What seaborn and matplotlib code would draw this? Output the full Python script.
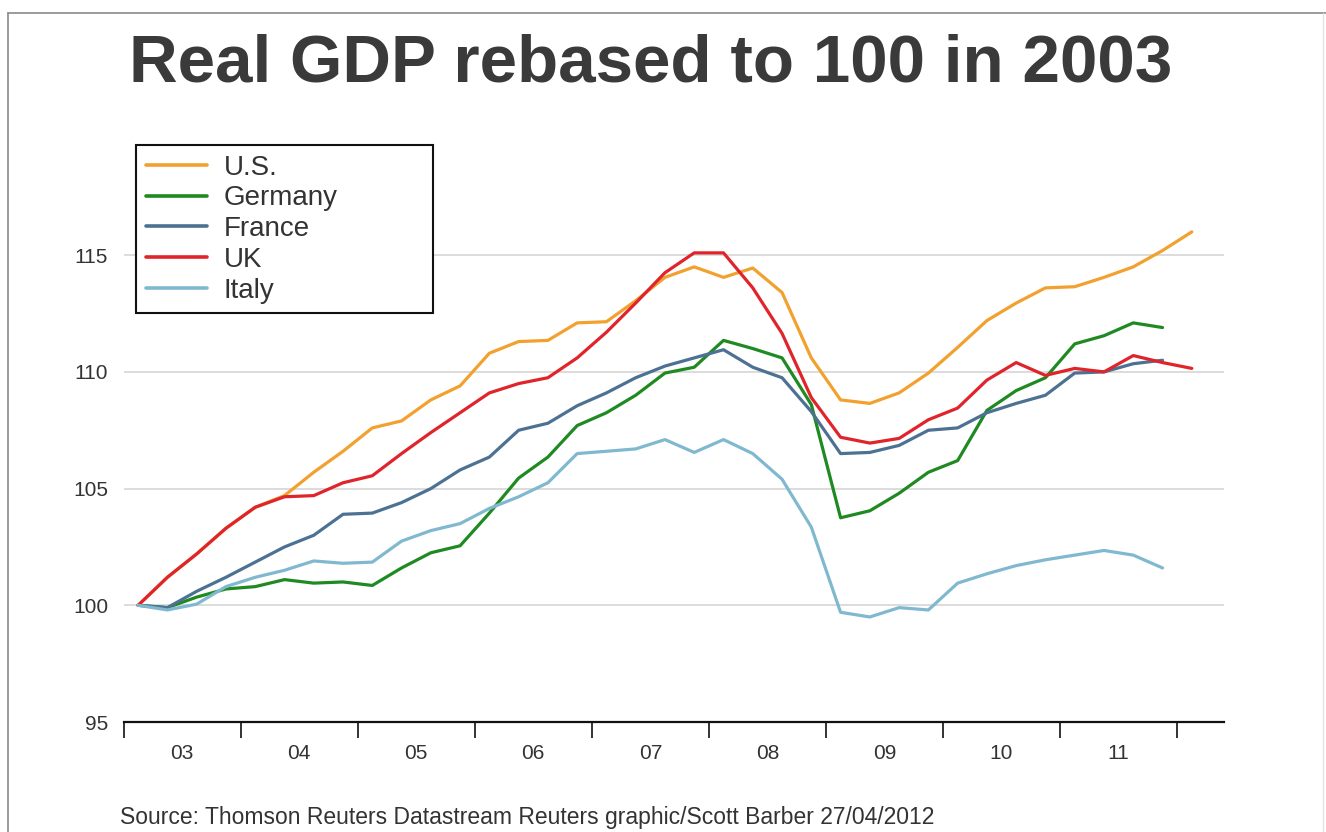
import matplotlib
matplotlib.use("Agg")
import matplotlib.pyplot as plt
import matplotlib.lines as mlines
import numpy as np
import pandas as pd
import seaborn as sns

# ---- data (quarterly, 2003Q1 onwards) ----
us = [100.0, 101.2, 102.2, 103.3, 104.2, 104.7, 105.7, 106.6, 107.6, 107.9,
      108.8, 109.4, 110.8, 111.3, 111.35, 112.1, 112.15, 113.05, 114.05, 114.5,
      114.05, 114.45, 113.4, 110.6, 108.8, 108.65, 109.1, 109.95, 111.05, 112.2,
      112.95, 113.6, 113.65, 114.05, 114.5, 115.2, 116.0]
germany = [100.0, 99.9, 100.35, 100.7, 100.8, 101.1, 100.95, 101.0, 100.85, 101.6,
           102.25, 102.55, 103.95, 105.45, 106.35, 107.7, 108.25, 109.0, 109.95, 110.2,
           111.35, 111.0, 110.6, 108.6, 103.75, 104.05, 104.8, 105.7, 106.2, 108.35,
           109.2, 109.75, 111.2, 111.55, 112.1, 111.9]
france = [100.0, 99.9, 100.6, 101.2, 101.85, 102.5, 103.0, 103.9, 103.95, 104.4,
          105.0, 105.8, 106.35, 107.5, 107.8, 108.55, 109.1, 109.75, 110.25, 110.6,
          110.95, 110.2, 109.75, 108.3, 106.5, 106.55, 106.85, 107.5, 107.6, 108.25,
          108.65, 109.0, 109.95, 110.0, 110.35, 110.5]
uk = [100.0, 101.2, 102.2, 103.3, 104.2, 104.65, 104.7, 105.25, 105.55, 106.5,
      107.4, 108.25, 109.1, 109.5, 109.75, 110.6, 111.7, 112.95, 114.25, 115.1,
      115.1, 113.6, 111.65, 108.9, 107.2, 106.95, 107.15, 107.95, 108.45, 109.65,
      110.4, 109.85, 110.15, 110.0, 110.7, 110.4, 110.15]
italy = [100.0, 99.8, 100.05, 100.8, 101.2, 101.5, 101.9, 101.8, 101.85, 102.75,
         103.2, 103.5, 104.15, 104.65, 105.25, 106.5, 106.6, 106.7, 107.1, 106.55,
         107.1, 106.5, 105.4, 103.35, 99.7, 99.5, 99.9, 99.8, 100.95, 101.35,
         101.7, 101.95, 102.15, 102.35, 102.15, 101.6]

series_names = ["U.S.", "Germany", "France", "UK", "Italy"]
series_values = [us, germany, france, uk, italy]
colors = ["#f2a12e", "#1f8a22", "#4d7192", "#e0242b", "#80b9cf"]

year_ticks = list(range(2003, 2013))
year_labels = ["03", "04", "05", "06", "07", "08", "09", "10", "11"]
y_ticks = [95, 100, 105, 110, 115]

rows = []
for name, vals in zip(series_names, series_values):
    for i, v in enumerate(vals):
        rows.append({"t": 2003 + 0.125 + 0.25 * i, "value": v, "country": name})
df = pd.DataFrame(rows)

# ---- figure ----
sns.set_theme(style="white")
plt.rcParams["font.family"] = ["Liberation Sans", "DejaVu Sans"]

W, H = 1326, 832
fig = plt.figure(figsize=(W / 100, H / 100), dpi=100)
ax = fig.add_axes([123.5 / W, 1 - 722 / H, (1224 - 123.5) / W, (722 - 138.5) / H])

palette = dict(zip(series_names, colors))
sns.lineplot(data=df, x="t", y="value", hue="country", hue_order=series_names,
             palette=palette, linewidth=2.3, ax=ax, legend=False, sort=True)

ax.set_xlim(2003, 2012.4)
ax.set_ylim(95, 120)
ax.set_xlabel("")
ax.set_ylabel("")

# grid lines
for yv in y_ticks[1:]:
    ax.axhline(yv, color="#d6d6d6", linewidth=1.2, zorder=0)

for s in ["top", "right", "left"]:
    ax.spines[s].set_visible(False)
ax.spines["bottom"].set_color("#111111")
ax.spines["bottom"].set_linewidth(1.6)

ax.set_yticks(y_ticks)
ax.set_yticklabels([str(v) for v in y_ticks])
ax.tick_params(axis="y", length=0, pad=11, labelsize=15, labelcolor="#333333")

ax.set_xticks(year_ticks)
ax.set_xticklabels([""] * len(year_ticks))
ax.set_xticks([y + 0.5 for y in year_ticks[:-1]], minor=True)
ax.set_xticklabels(year_labels, minor=True)
ax.tick_params(axis="x", which="major", direction="out", length=11.5, width=1.2,
               color="#111111", bottom=True)
ax.tick_params(axis="x", which="minor", length=0, pad=16, labelsize=15,
               labelcolor="#333333")

# legend
handles = [mlines.Line2D([], [], color=c, linewidth=2.6) for c in colors]
leg = ax.legend(handles, series_names, loc="upper left",
                bbox_to_anchor=(136 / W, 1 - 145 / H, (433 - 136) / W, 0),
                bbox_transform=fig.transFigure, mode="expand",
                fontsize=20, handlelength=2.2, handletextpad=0.6,
                labelspacing=0.17, borderpad=0.35, borderaxespad=0,
                fancybox=False, framealpha=1, edgecolor="#111111")
leg.get_frame().set_linewidth(1.5)
for t in leg.get_texts():
    t.set_color("#333333")

# title
fig.text(651 / W, 1 - 81 / H, "Real GDP rebased to 100 in 2003", ha="center",
         va="baseline", fontsize=48.5, fontweight="bold", color="#3a3a3a")

# source
fig.text(120 / W, 1 - 806 / H,
         "Source: Thomson Reuters Datastream Reuters graphic/Scott Barber 27/04/2012",
         ha="left", va="top", fontsize=16.5, color="#333333")

# outer frame lines
fig.add_artist(mlines.Line2D([8 / W, 1], [1 - 13 / H, 1 - 13 / H],
                             transform=fig.transFigure, color="#8a8a8a", linewidth=1.2))
fig.add_artist(mlines.Line2D([8 / W, 8 / W], [0, 1 - 13 / H],
                             transform=fig.transFigure, color="#8a8a8a", linewidth=1.2))
fig.add_artist(mlines.Line2D([1323 / W, 1323 / W], [0, 1 - 13 / H],
                             transform=fig.transFigure, color="#e2e2e2", linewidth=1.0))

fig.savefig("out.png", dpi=100, facecolor="white")
